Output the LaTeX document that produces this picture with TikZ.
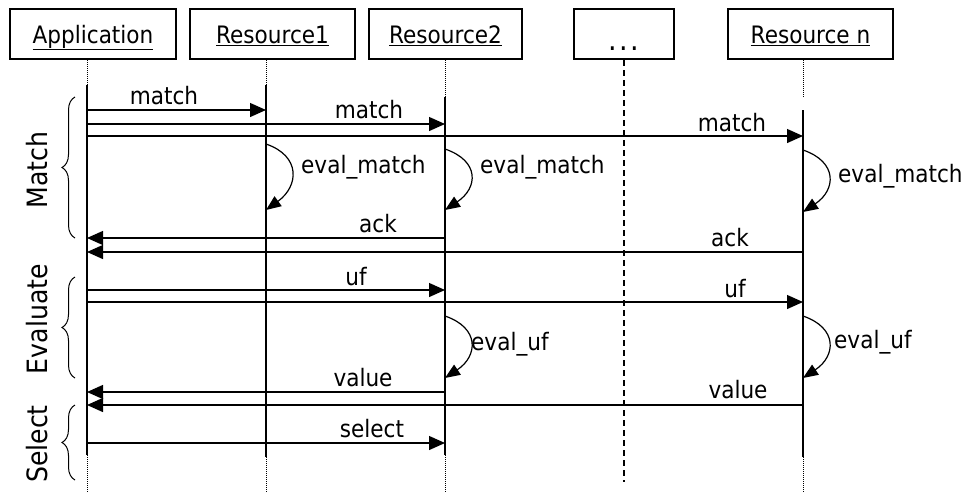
\documentclass[tikz,border=0pt]{standalone}
\usepackage{fontspec}
\setmainfont{DejaVu Sans}[FakeStretch=0.9]
\usetikzlibrary{arrows.meta,decorations.pathreplacing}
\begin{document}
\begin{tikzpicture}[x=1pt,y=-1pt,
  box/.style={draw, line width=2.2pt, minimum height=50pt, inner sep=0pt,
    text height=25pt, text depth=7pt, font=\fontsize{24}{26}\selectfont},
  msg/.style={line width=1.3pt, -{Triangle[length=16pt,width=14pt]}},
  selfloop/.style={line width=1.2pt, -{Triangle[length=15pt,width=12pt]}},
  lbl/.style={font=\fontsize{24}{26}\selectfont, inner sep=0pt, anchor=base},
  elbl/.style={font=\fontsize{24}{26}\selectfont, inner sep=0pt, anchor=base west},
  side/.style={font=\fontsize{28}{30}\selectfont, inner sep=0pt, rotate=90},
  life/.style={line width=1.3pt},
  dotline/.style={line width=1pt, dash pattern=on 1pt off 1pt},
  dashline/.style={line width=1.3pt, dash pattern=on 6pt off 4pt},
  phase/.style={line width=1pt, decorate, decoration={brace, amplitude=13pt}}]

\useasboundingbox (0,0) rectangle (969,493);

% boxes
\node[box, minimum width=166pt] (app) at (93,34) {\underline{Application}};
\node[box, minimum width=165pt] (r1) at (272.5,34) {\underline{Resource1}};
\node[box, minimum width=153pt] (r2) at (445.5,34) {\underline{Resource2}};
\node[box, minimum width=100pt] (rd) at (624,34) {\raisebox{-7pt}{\fontsize{30}{30}\selectfont .\hspace{2.5pt}.\hspace{2.5pt}.}};
\node[box, minimum width=165pt] (rn) at (810.5,34) {\underline{Resource n}};

% lifeline coordinates
\coordinate (aT) at (87,60);  \coordinate (aS) at (87,85);  \coordinate (aE) at (87,455);  \coordinate (aB) at (87,492);
\coordinate (bT) at (266,60); \coordinate (bS) at (266,85); \coordinate (bE) at (266,457); \coordinate (bB) at (266,492);
\coordinate (cT) at (445,60); \coordinate (cS) at (445,97); \coordinate (cE) at (445,455); \coordinate (cB) at (445,492);
\coordinate (dT) at (624,60); \coordinate (dB) at (624,482);
\coordinate (nT) at (803,60); \coordinate (nD) at (803,97); \coordinate (nS) at (803,110); \coordinate (nE) at (803,457); \coordinate (nB) at (803,492);

% lifelines
\draw[dotline] (aT) -- (aS); \draw[life] (aS) -- (aE); \draw[dotline] (aE) -- (aB);
\draw[dotline] (bT) -- (bS); \draw[life] (bS) -- (bE); \draw[dotline] (bE) -- (bB);
\draw[dotline] (cT) -- (cS); \draw[life] (cS) -- (cE); \draw[dotline] (cE) -- (cB);
\draw[dashline] (dT) -- (dB);
\draw[dotline] (nT) -- (nD); \draw[life] (nS) -- (nE); \draw[dotline] (nE) -- (nB);

% message end points
\coordinate (m1a) at (87,110);  \coordinate (m1b) at (266,110);
\coordinate (m2a) at (87,124);  \coordinate (m2b) at (445,124);
\coordinate (m3a) at (87,136);  \coordinate (m3b) at (803,136);
\coordinate (k1a) at (445,238); \coordinate (k1b) at (87,238);
\coordinate (k2a) at (803,252); \coordinate (k2b) at (87,252);
\coordinate (u1a) at (87,290);  \coordinate (u1b) at (445,290);
\coordinate (u2a) at (87,302);  \coordinate (u2b) at (803,302);
\coordinate (v1a) at (445,392); \coordinate (v1b) at (87,392);
\coordinate (v2a) at (803,405); \coordinate (v2b) at (87,405);
\coordinate (s1a) at (87,443);  \coordinate (s1b) at (445,443);

\draw[msg] (m1a) -- (m1b);
\draw[msg] (m2a) -- (m2b);
\draw[msg] (m3a) -- (m3b);
\draw[msg] (k1a) -- (k1b);
\draw[msg] (k2a) -- (k2b);
\draw[msg] (u1a) -- (u1b);
\draw[msg] (u2a) -- (u2b);
\draw[msg] (v1a) -- (v1b);
\draw[msg] (v2a) -- (v2b);
\draw[msg] (s1a) -- (s1b);

\node[lbl] (lm1) at (164,104) {match};
\node[lbl] (lm2) at (369,118) {match};
\node[lbl] (lm3) at (732,131) {match};
\node[lbl] (lk1) at (378,232) {ack};
\node[lbl] (lk2) at (730,246) {ack};
\node[lbl] (lu1) at (356,285) {uf};
\node[lbl] (lu2) at (735,297) {uf};
\node[lbl] (lv1) at (363,386.5) {value};
\node[lbl] (lv2) at (738,398.5) {value};
\node[lbl] (ls1) at (372,437) {select};

% self loops
\coordinate (e1a) at (266,144); \coordinate (e1b) at (266,210);
\coordinate (e2a) at (445,149); \coordinate (e2b) at (445,210);
\coordinate (e3a) at (803,150); \coordinate (e3b) at (803,212);
\coordinate (f2a) at (445,316); \coordinate (f2b) at (445,378);
\coordinate (f3a) at (803,316); \coordinate (f3b) at (803,378);
\draw[selfloop] (e1a) .. controls +(35,12) and +(33,-24) .. (e1b);
\draw[selfloop] (e2a) .. controls +(35,12) and +(33,-22) .. (e2b);
\draw[selfloop] (e3a) .. controls +(35,12) and +(33,-22) .. (e3b);
\draw[selfloop] (f2a) .. controls +(35,12) and +(33,-22) .. (f2b);
\draw[selfloop] (f3a) .. controls +(35,12) and +(33,-22) .. (f3b);

\node[elbl] (le1) at (301,173) {eval\_match};
\node[elbl] (le2) at (480,173) {eval\_match};
\node[elbl] (le3) at (838,182) {eval\_match};
\node[elbl] (lf2) at (471,350) {eval\_uf};
\node[elbl] (lf3) at (834,348) {eval\_uf};

% phases
\coordinate (pm1) at (75,238); \coordinate (pm2) at (75,97);
\coordinate (pe1) at (75,378); \coordinate (pe2) at (75,277);
\coordinate (ps1) at (75,480); \coordinate (ps2) at (75,405);
\draw[phase] (pm1) -- (pm2);
\draw[phase] (pe1) -- (pe2);
\draw[phase] (ps1) -- (ps2);
\node[side] (pmatch) at (37,170) {Match};
\node[side] (peval) at (37,319) {Evaluate};
\node[side] (psel) at (37,444) {Select};
\end{tikzpicture}
\end{document}
